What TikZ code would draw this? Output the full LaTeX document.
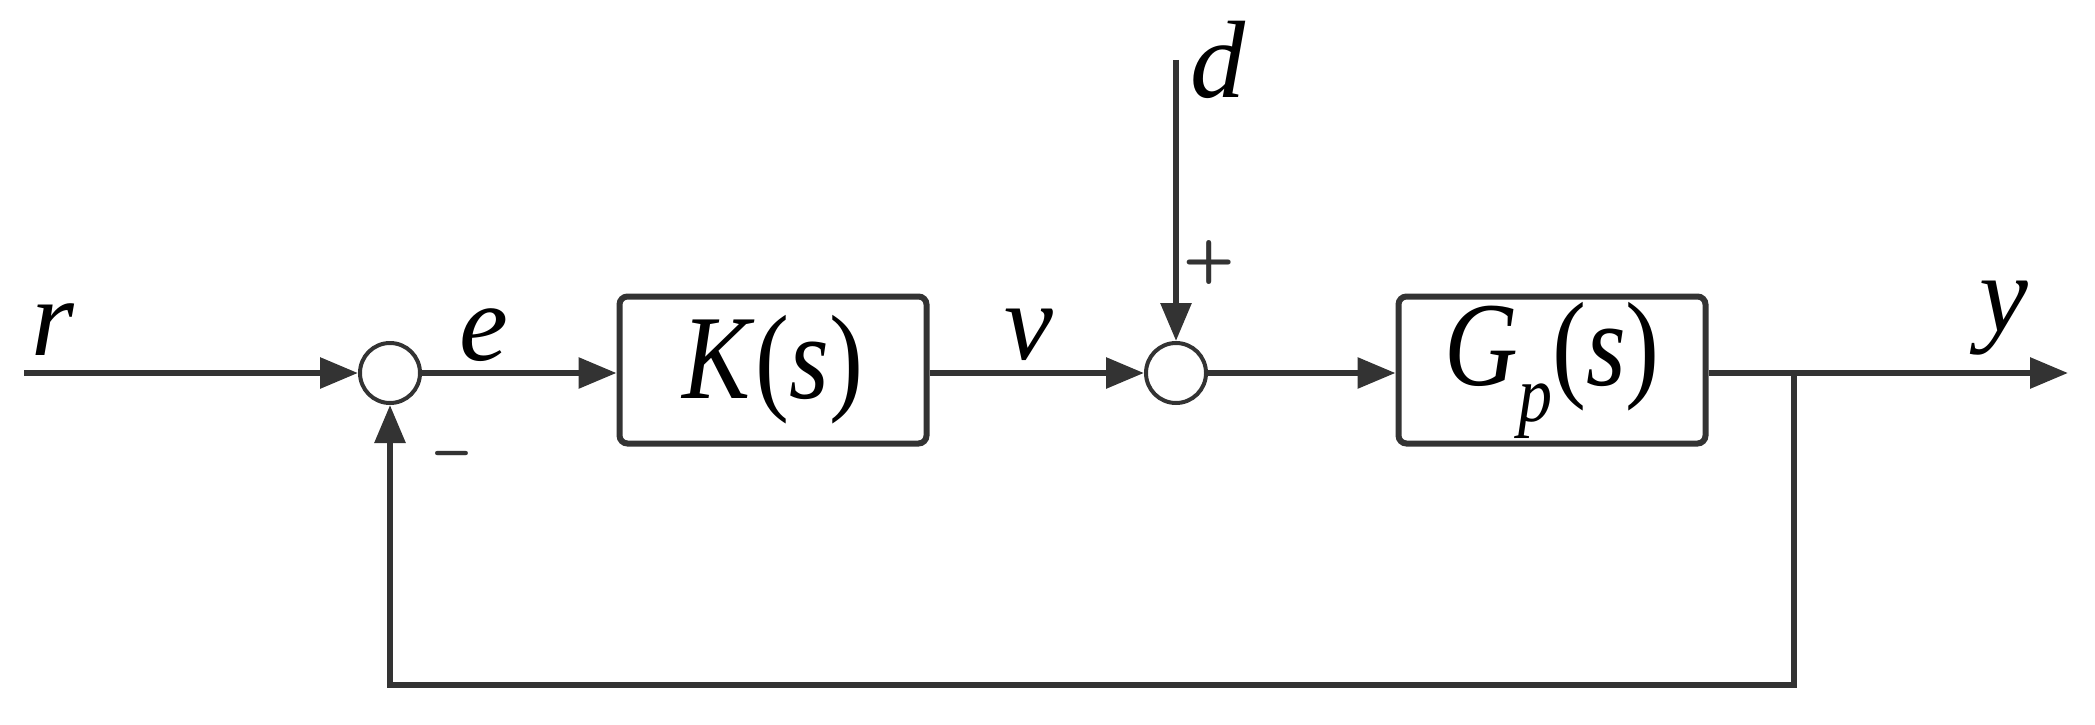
\documentclass[tikz,border=0pt]{standalone}
\usepackage{fontspec}
\setmainfont{Liberation Serif}[ItalicFont={Liberation Serif Italic}]
\usetikzlibrary{arrows.meta}
\definecolor{ink}{HTML}{333333}
\begin{document}
\begin{tikzpicture}[x=1pt,y=-1pt,
  line/.style={draw=ink,line width=6pt},
  arr/.style={line,-{Triangle[length=38pt,width=30pt]}},
  blk/.style={draw=ink,line width=6pt,rounded corners=8pt,minimum width=307pt,minimum height=147pt,inner sep=0pt},
  sumn/.style={circle,draw=ink,line width=4pt,minimum size=60pt,inner sep=0pt},
  lab/.style={font=\fontsize{110}{110}\selectfont\itshape,text=black,inner sep=0pt}]
\useasboundingbox (0,0) rectangle (2095,725);
\coordinate (in) at (24,373);
\node[sumn] (s1) at (390,373) {};
\node[blk] (K) at (773,370) {\fontsize{120}{120}\selectfont\scalebox{0.85}[1]{\textit{K}(\textit{s})}};
\node[sumn] (s2) at (1176,373) {};
\node[blk] (G) at (1552,370) {\fontsize{120}{120}\selectfont\scalebox{0.85}[1]{\textit{G}\raisebox{-0.3em}{\fontsize{80}{80}\selectfont\textit{p}}(\textit{s})}};
\coordinate (br) at (1794,373);
\coordinate (out) at (2068,373);
\coordinate (dtop) at (1176,60);
\coordinate (fb1) at (1794,685);
\coordinate (fb2) at (390,685);
\draw[arr] (in) -- (s1);
\draw[arr] (s1) -- (K.west|-s1);
\draw[arr] (K.east|-s2) -- (s2);
\draw[arr] (s2) -- (G.west|-s2);
\draw[line] (G.east|-br) -- (br);
\draw[arr] (br) -- (out);
\draw[arr] (dtop) -- (s2);
\draw[arr,line join=miter] (br) -- (fb1) -- (fb2) -- (s1);
\node[lab] (lr) at (53,330) {r};
\node[lab] (le) at (484,335) {e};
\node[lab] (lv) at (1029,335) {v};
\node[lab] (ld) at (1218,60) {d};
\node[lab] (ly) at (2004,318) {y};
\node[font=\fontsize{60}{60}\selectfont\sffamily\bfseries,text=ink] (plus) at (1209,262) {+};
\node[font=\fontsize{60}{60}\selectfont\sffamily\bfseries,text=ink] (minus) at (452,461) {--};
\end{tikzpicture}
\end{document}
